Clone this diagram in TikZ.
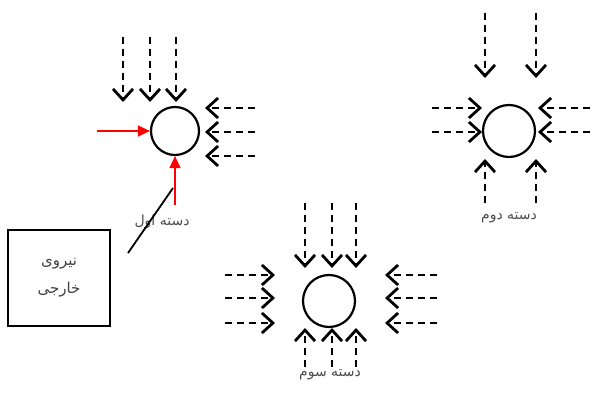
\documentclass[tikz,border=0pt]{standalone}
\usepackage{fontspec}
\usepackage{xcolor}
\usepackage{tikz}
\usetikzlibrary{arrows.meta,positioning,calc}
\TeXXeTstate=1
\newfontfamily\fafont[Script=Arabic]{DejaVu Sans}
\definecolor{ink}{HTML}{000000}
\definecolor{forcered}{HTML}{FF0000}
\newcommand{\fa}[1]{{\fafont\beginR #1\endR}}
\tikzset{
  ball/.style={circle, draw=ink, line width=2.2pt, minimum size=#1, inner sep=0pt},
  darr/.style={-{Straight Barb[length=11pt, width=20pt, line width=2.8pt]}, draw=ink,
               line width=2.2pt, dash pattern=on 7pt off 5pt},
  farr/.style={-{Triangle[length=12pt, width=11pt]}, draw=forcered, line width=1.5pt},
  lbl/.style={font=\fontsize{14}{15}\selectfont, text=ink!70},
  boxnode/.style={rectangle, draw=ink, line width=1.8pt, minimum width=102pt, minimum height=96pt,
                  align=center, font=\fontsize{15}{28}\selectfont, text=ink!75},
}
\begin{document}
\begin{tikzpicture}[x=1pt, y=-1pt]
\useasboundingbox (0,0) rectangle (592,396);
% the three particles
\node[ball=48pt] (c1) at (175,131) {};
\node[ball=52pt] (c2) at (509,131) {};
\node[ball=52pt] (c3) at (329,301) {};
% first group
\foreach \dx in {-52,-25,1}
  \draw[darr] ([shift={(\dx,-94)}]c1.center) -- ([shift={(\dx,-29)}]c1.center);
\foreach \dy in {-23,1,25}
  \draw[darr] ([shift={(80,\dy)}]c1.center) -- ([shift={(30,\dy)}]c1.center);
\coordinate (f1) at (97,131);
\coordinate (f2) at (175,205);
\draw[farr] (f1) -- (c1.west);
\draw[farr] (f2) -- (c1.south);
\node[lbl] (l1) at (162,222) {\fa{دسته اول}};
% external force
\node[boxnode] (ext) at (59,278) {\fa{نیروی}\\\fa{خارجی}};
\coordinate (p1) at (128,253);
\coordinate (p2) at (173,188);
\draw[ink, line width=1.8pt] (p1) -- (p2);
% second group
\foreach \dx in {-24,27}{
  \draw[darr] ([shift={(\dx,-118)}]c2.center) -- ([shift={(\dx,-53)}]c2.center);
  \draw[darr] ([shift={(\dx,72)}]c2.center) -- ([shift={(\dx,28)}]c2.center);
}
\foreach \dy in {-23,1}{
  \draw[darr] ([shift={(-77,\dy)}]c2.center) -- ([shift={(-27,\dy)}]c2.center);
  \draw[darr] ([shift={(81,\dy)}]c2.center) -- ([shift={(29,\dy)}]c2.center);
}
\node[lbl] (l2) at (509,218) {\fa{دسته دوم}};
% third group
\foreach \dx in {-24,3,27}{
  \draw[darr] ([shift={(\dx,-98)}]c3.center) -- ([shift={(\dx,-33)}]c3.center);
  \draw[darr] ([shift={(\dx,66)}]c3.center) -- ([shift={(\dx,27)}]c3.center);
}
\foreach \dy in {-26,-3,22}{
  \draw[darr] ([shift={(-104,\dy)}]c3.center) -- ([shift={(-54,\dy)}]c3.center);
  \draw[darr] ([shift={(108,\dy)}]c3.center) -- ([shift={(56,\dy)}]c3.center);
}
\node[lbl] (l3) at (330,375) {\fa{دسته سوم}};
\end{tikzpicture}
\end{document}
